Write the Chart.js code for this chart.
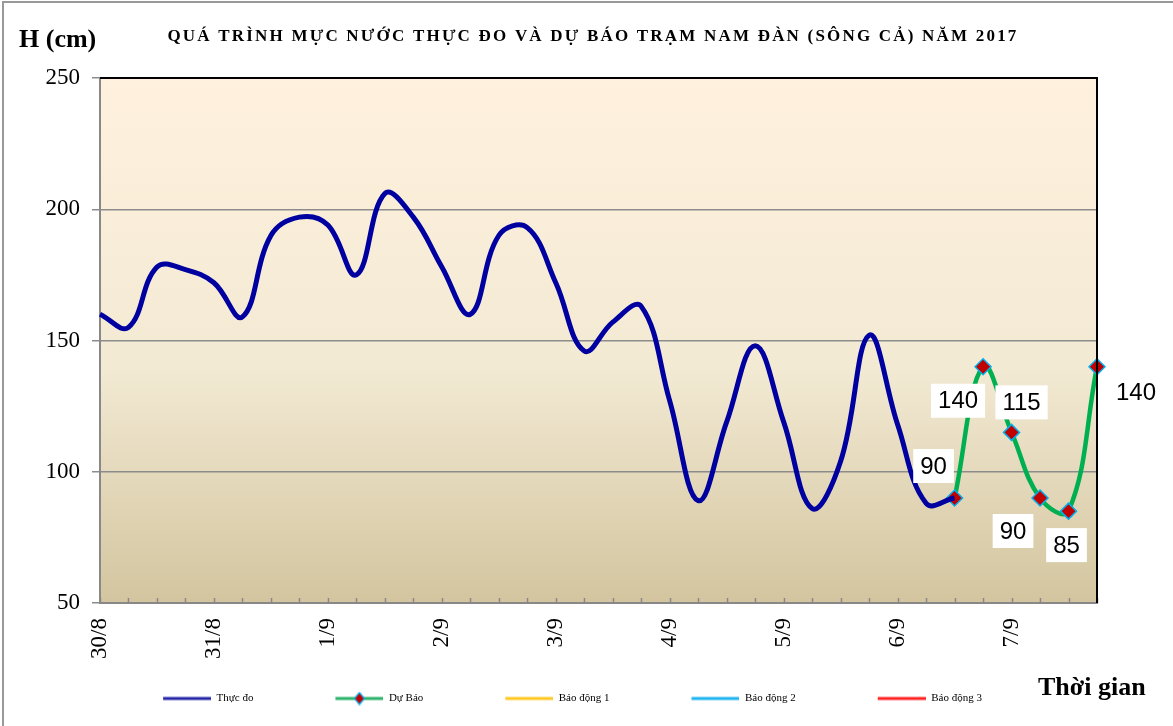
<!DOCTYPE html>
<html>
<head>
<meta charset="utf-8">
<script src="https://cdn.jsdelivr.net/npm/chart.js@4.4.1/dist/chart.umd.min.js"></script>
<style>
  html, body { margin: 0; padding: 0; background: #fff; }
</style>
</head>
<body>
<canvas id="chart" width="1173" height="726"></canvas>
<script>
// days on the axis, 4 readings per day
const days = ['30/8', '31/8', '1/9', '2/9', '3/9', '4/9', '5/9', '6/9', '7/9'];
const labels = days.flatMap(d => [d, '', '', '']);

// water level (cm)
const measured = [160, 155, 178, 177, 172, 159, 190, 197, 194, 175, 206, 197, 178, 160, 190, 193,
  172, 146, 157, 163, 127, 89, 119, 148, 119, 86, 104, 152, 118, 88, 90];
const forecast = [90, 140, 115, 90, 85, 140];
const forecastStart = 30;

const alarm1 = [];
const alarm2 = [];
const alarm3 = [];

const yMin = 50, yMax = 250, yStep = 50;

const measuredData = labels.map((_, i) => i < measured.length ? measured[i] : null);
const forecastData = labels.map((_, i) => i >= forecastStart ? forecast[i - forecastStart] : null);

// where the value boxes sit, relative to each forecast point
const labelOffsets = [[-21, -32], [-25, 34], [10, -30], [-27, 33], [-2, 34], [39, 26]];

const serif = '"Liberation Serif", "Times New Roman", serif';
const sans = '"Liberation Sans", Arial, sans-serif';
const title = 'QUÁ TRÌNH MỰC NƯỚC THỰC ĐO VÀ DỰ BÁO TRẠM NAM ĐÀN (SÔNG CẢ) NĂM 2017';

// legend swatch: transparent gap on the left keeps the items spread out
const gapLeft = 72;
function legendSample(color, diamond) {
  const c = document.createElement('canvas');
  c.width = gapLeft + 48; c.height = 14;
  const g = c.getContext('2d');
  g.strokeStyle = color;
  g.lineWidth = 3;
  g.beginPath(); g.moveTo(gapLeft, 7); g.lineTo(gapLeft + 48, 7); g.stroke();
  if (diamond) {
    const m = gapLeft + 24;
    g.fillStyle = '#C00000';
    g.strokeStyle = '#00B0F0';
    g.lineWidth = 1.2;
    g.beginPath();
    g.moveTo(m, 1); g.lineTo(m + 5, 7); g.lineTo(m, 13); g.lineTo(m - 5, 7); g.closePath();
    g.fill(); g.stroke();
  }
  return c;
}

const samples = [
  legendSample('#2424A8'),
  legendSample('#2BB36A', true),
  legendSample('#FFC820'),
  legendSample('#1EB4F0'),
  legendSample('#FF2020'),
];

const decor = {
  id: 'decor',
  afterLayout(chart) {
    // nudge the legend row a little to the left
    chart.legend.left -= 12;
    chart.legend.right -= 12;
  },
  beforeDraw(chart) {
    const { ctx, chartArea: a } = chart;
    const grad = ctx.createLinearGradient(0, a.top, 0, a.bottom);
    grad.addColorStop(0, '#FFF1DD');
    grad.addColorStop(0.55, '#F3EAD4');
    grad.addColorStop(1, '#D3C59F');
    ctx.save();
    ctx.fillStyle = grad;
    ctx.fillRect(a.left, a.top, a.right - a.left, a.bottom - a.top);
    ctx.restore();
  },
  afterDraw(chart) {
    const { ctx, chartArea: a, scales: { x } } = chart;
    ctx.save();
    // small inward ticks on the time axis
    ctx.strokeStyle = '#888';
    ctx.lineWidth = 1.5;
    labels.forEach((_, i) => {
      const px = Math.round(x.getPixelForValue(i)) + 0.5;
      ctx.beginPath(); ctx.moveTo(px, a.bottom); ctx.lineTo(px, a.bottom - 5); ctx.stroke();
    });
    // dark top and right edge of the plot
    ctx.strokeStyle = '#000';
    ctx.lineWidth = 2;
    ctx.beginPath();
    ctx.moveTo(a.left, a.top); ctx.lineTo(a.right, a.top); ctx.lineTo(a.right, a.bottom);
    ctx.stroke();
    // outer frame
    ctx.strokeStyle = '#999';
    ctx.lineWidth = 2;
    ctx.strokeRect(3, 2, chart.width, chart.height);
    // title and axis captions
    ctx.fillStyle = '#000';
    ctx.textBaseline = 'middle';
    ctx.font = 'bold 17px ' + serif;
    ctx.textAlign = 'center';
    ctx.letterSpacing = '2.2px';
    ctx.fillText(title, 593, 37);
    ctx.letterSpacing = '0px';
    ctx.textAlign = 'left';
    ctx.font = 'bold 26px ' + serif;
    ctx.fillText('H (cm)', 19, 40);
    ctx.fillText('Thời gian', 1038, 688);
    ctx.restore();
  }
};

const valueLabels = {
  id: 'valueLabels',
  afterDatasetsDraw(chart) {
    const { ctx } = chart;
    const meta = chart.getDatasetMeta(1);
    ctx.save();
    ctx.font = '24px ' + sans;
    ctx.textAlign = 'center';
    ctx.textBaseline = 'middle';
    forecast.forEach((v, k) => {
      const pt = meta.data[forecastStart + k];
      const [dx, dy] = labelOffsets[k];
      const cx = pt.x + dx, cy = pt.y + dy;
      const w = ctx.measureText(String(v)).width + 14;
      ctx.fillStyle = '#fff';
      ctx.fillRect(cx - w / 2, cy - 17, w, 34);
      ctx.fillStyle = '#000';
      ctx.fillText(String(v), cx, cy + 1);
    });
    ctx.restore();
  }
};

new Chart(document.getElementById('chart'), {
  type: 'line',
  data: {
    labels,
    datasets: [
      {
        label: 'Thực đo',
        data: measuredData,
        borderColor: '#0000A0',
        borderWidth: 5,
        tension: 0.4,
        pointRadius: 0,
      },
      {
        label: 'Dự Báo',
        data: forecastData,
        borderColor: '#00B050',
        borderWidth: 4.5,
        tension: 0.4,
        pointStyle: 'rectRot',
        pointRadius: 8,
        pointBackgroundColor: '#C00000',
        pointBorderColor: '#00B0F0',
        pointBorderWidth: 1.5,
      },
      { label: 'Báo động 1', data: alarm1, borderColor: '#FFC820', pointRadius: 0 },
      { label: 'Báo động 2', data: alarm2, borderColor: '#1EB4F0', pointRadius: 0 },
      { label: 'Báo động 3', data: alarm3, borderColor: '#FF2020', pointRadius: 0 },
    ],
  },
  options: {
    responsive: false,
    animation: false,
    events: [],
    layout: { padding: { left: 0, right: 76, top: 78, bottom: 12 } },
    plugins: {
      title: { display: false },
      legend: {
        position: 'bottom',
        labels: {
          usePointStyle: true,
          pointStyleWidth: gapLeft + 48,
          padding: 10,
          color: '#000',
          font: { family: serif, size: 11 },
          generateLabels: chart => chart.data.datasets.map((ds, i) => ({
            text: ds.label,
            pointStyle: samples[i],
            datasetIndex: i,
            hidden: false,
            lineWidth: 0,
            fillStyle: 'transparent',
            strokeStyle: 'transparent',
            fontColor: '#000',
          })),
        },
      },
      tooltip: { enabled: false },
    },
    scales: {
      x: {
        offset: false,
        grid: { drawOnChartArea: false, drawTicks: false },
        border: { color: '#888', width: 2 },
        ticks: {
          autoSkip: false,
          maxRotation: 90,
          minRotation: 90,
          padding: 15,
          color: '#000',
          font: { family: serif, size: 23 },
          callback: (v, i) => labels[i],
        },
        afterFit: s => { s.height = 80; },
      },
      y: {
        min: yMin,
        max: yMax,
        ticks: { stepSize: yStep, padding: 12, color: '#000', font: { family: serif, size: 23 } },
        grid: { color: '#8C8C8C', lineWidth: 1.5, tickLength: 8 },
        border: { color: '#888', width: 2 },
        afterFit: s => { s.width = 100; },
      },
    },
  },
  plugins: [decor, valueLabels],
});
</script>
</body>
</html>
